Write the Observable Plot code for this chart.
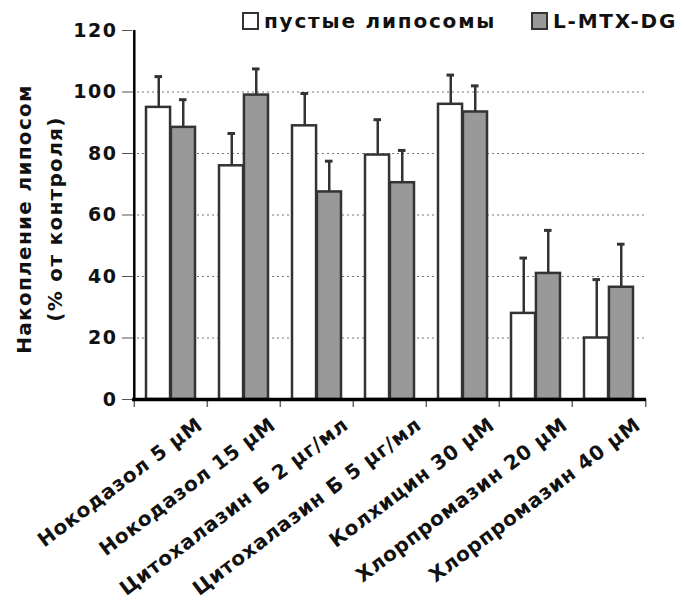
<!DOCTYPE html>
<html>
<head>
<meta charset="utf-8">
<script src="https://cdn.jsdelivr.net/npm/d3@7"></script>
<script src="https://cdn.jsdelivr.net/npm/@observablehq/plot@0.6"></script>
<style>
  body { margin: 0; background: #fff; }
  #wrap { position: relative; width: 684px; height: 601px; font-family: "DejaVu Sans", sans-serif; }
  .legend { position: absolute; top: 9px; display: flex; align-items: center; font-weight: bold; font-size: 20px; letter-spacing: 1.8px; color: #111; white-space: nowrap; }
  .sw { width: 13px; height: 14px; border: 2px solid #333; margin-right: 5px; }
  #wrap svg g[aria-label="y-axis tick label"] text, #wrap svg g[aria-label="y-axis"] text { letter-spacing: 1.5px; }
  #wrap svg g[aria-label="y-axis tick"] path { stroke: #555; }
  #wrap svg .xlab text { letter-spacing: 0.7px; }
  #wrap svg .ytitle text { letter-spacing: 1.3px; }
</style>
</head>
<body>
<div id="wrap"></div>
<script>
const categories = ["Нокодазол 5 µM", "Нокодазол 15 µM", "Цитохалазин Б 2 µг/мл", "Цитохалазин Б 5 µг/мл", "Колхицин 30 µM", "Хлорпромазин 20 µM", "Хлорпромазин 40 µM"];
const seriesNames = ["пустые липосомы", "L-MTX-DG"];
const emptyValues = [95, 76, 89, 79.5, 96, 28, 20];
const emptyErrors = [10, 10.5, 10.5, 11.5, 9.5, 18, 19];
const drugValues = [88.5, 99, 67.5, 70.5, 93.5, 41, 36.5];
const drugErrors = [9, 8.5, 10, 10.5, 8.5, 14, 14];
const yTicks = [0, 20, 40, 60, 80, 100, 120];
const gridTicks = [20, 40, 60, 80, 100];
const seriesColors = ["#ffffff", "#999999"];

const W = 684, H = 601, mL = 132, mR = 38, mT = 30, mB = 202;
const bw = (W - mL - mR) / categories.length;
const pad = 12, barW = 24.5;
const off = barW / 2;

const emptyData = categories.map((c, i) => ({cat: c, v: emptyValues[i], e: emptyErrors[i]}));
const drugData = categories.map((c, i) => ({cat: c, v: drugValues[i], e: drugErrors[i]}));

const capW = 8;
const plot = Plot.plot({
  width: W, height: H,
  marginLeft: mL, marginRight: mR, marginTop: mT, marginBottom: mB,
  style: {fontFamily: "'DejaVu Sans', sans-serif", fontWeight: "bold", fontSize: "19px", color: "#111", background: "#fff", overflow: "visible"},
  x: {type: "band", domain: categories, padding: 0, axis: null},
  y: {domain: [0, 120], ticks: yTicks, tickSize: 10, tickPadding: 5, label: null},
  marks: [
    Plot.ruleY(gridTicks, {stroke: "#777", strokeDasharray: "2,3", strokeWidth: 1}),
    Plot.ruleX(emptyData, {x: "cat", y1: "v", y2: d => d.v + d.e, dx: -off, stroke: "#333", strokeWidth: 2.5}),
    Plot.ruleX(drugData, {x: "cat", y1: "v", y2: d => d.v + d.e, dx: off, stroke: "#333", strokeWidth: 2.5}),
    Plot.tickY(emptyData, {x: "cat", y: d => d.v + d.e, dx: -off, insetLeft: (bw - capW) / 2, insetRight: (bw - capW) / 2, stroke: "#333", strokeWidth: 3}),
    Plot.tickY(drugData, {x: "cat", y: d => d.v + d.e, dx: off, insetLeft: (bw - capW) / 2, insetRight: (bw - capW) / 2, stroke: "#333", strokeWidth: 3}),
    Plot.barY(emptyData, {x: "cat", y: "v", fill: seriesColors[0], stroke: "#333", strokeWidth: 2.5, insetLeft: pad, insetRight: bw - pad - barW}),
    Plot.barY(drugData, {x: "cat", y: "v", fill: seriesColors[1], stroke: "#333", strokeWidth: 2.5, insetLeft: bw - pad - barW, insetRight: pad}),
    Plot.ruleX(categories, {x: d => d, dx: -bw / 2, y1: 0, y2: 0, insetTop: 0, insetBottom: -8, stroke: "#666", strokeWidth: 1.5}),
    Plot.ruleX(categories.slice(-1), {x: d => d, dx: bw / 2, y1: 0, y2: 0, insetTop: 0, insetBottom: -8, stroke: "#666", strokeWidth: 1.5}),
    Plot.ruleY([0], {stroke: "#000", strokeWidth: 3.5}),
    Plot.ruleX(categories.slice(0, 1), {x: d => d, dx: -bw / 2, y1: 0, y2: 120, stroke: "#000", strokeWidth: 2.5}),
    Plot.text(categories, {x: d => d, y: 0, text: d => d, rotate: -37, textAnchor: "end", dx: 29, dy: 23, fontSize: 20, fontWeight: "bold", fill: "#111", className: "xlab"}),
    Plot.text(["Накопление липосом\n(% от контроля)"], {frameAnchor: "left", text: d => d, rotate: -90, textAnchor: "middle", dx: -96, dy: 4, lineHeight: 1.55, fontSize: 20, fontWeight: "bold", fill: "#111", className: "ytitle"})
  ]
});
const wrap = document.getElementById("wrap");
wrap.appendChild(plot);
seriesNames.forEach((name, i) => {
  const d = document.createElement("div");
  d.className = "legend";
  d.style.left = (i === 0 ? 242 : 531) + "px";
  const sw = document.createElement("div");
  sw.className = "sw";
  sw.style.background = seriesColors[i];
  const t = document.createElement("span");
  t.textContent = name;
  d.appendChild(sw); d.appendChild(t);
  wrap.appendChild(d);
});
</script>
</body>
</html>
